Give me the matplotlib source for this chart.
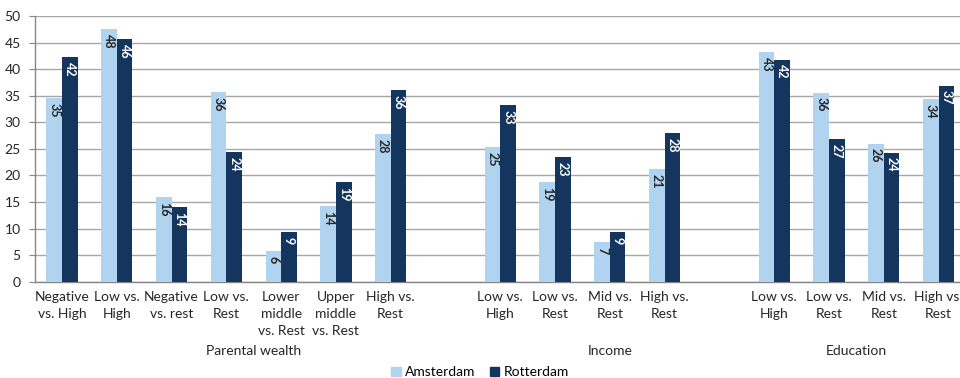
import matplotlib.pyplot as plt
import numpy as np

plt.rcParams['font.family'] = ['Lato', 'DejaVu Sans']

# Categories per group (empty string = spacer slot)
categories = ['Negative\nvs. High', 'Low vs.\nHigh', 'Negative\nvs. rest', 'Low vs.\nRest',
              'Lower\nmiddle\nvs. Rest', 'Upper\nmiddle\nvs. Rest', 'High vs.\nRest', '',
              'Low vs.\nHigh', 'Low vs.\nRest', 'Mid vs.\nRest', 'High vs.\nRest', '',
              'Low vs.\nHigh', 'Low vs.\nRest', 'Mid vs.\nRest', 'High vs.\nRest']
groups = ['Parental wealth', 'Income', 'Education']
group_slots = [(0, 7), (8, 12), (13, 16)]

amsterdam = [34.6, 47.6, 15.9, 35.7, 5.8, 14.3, 27.8, None,
             25.3, 18.7, 7.4, 21.2, None,
             43.2, 35.6, 26.0, 34.3]
rotterdam = [42.3, 45.7, 14.1, 24.4, 9.3, 18.7, 36.0, None,
             33.3, 23.4, 9.3, 27.9, None,
             41.8, 26.9, 24.3, 36.9]

light = '#B0D4F0'
dark = '#14365E'

fig = plt.figure(figsize=(9.6, 3.78), dpi=100)
ax = fig.add_axes([34.6 / 960, 96.3 / 378, 931.4 / 960, 265.7 / 378])

x = np.arange(len(categories))
w = 0.285

for vals, off, col, tcol in [(amsterdam, -w / 2, light, '#262626'),
                             (rotterdam, w / 2, dark, 'white')]:
    for xi, v in zip(x, vals):
        if v is None:
            continue
        ax.bar(xi + off, v, w, color=col, edgecolor='none', zorder=3)
        ax.annotate(f"{v:.0f}", (xi + off, v), xytext=(0, -3.5), textcoords='offset points',
                    rotation=270, ha='center', va='top', fontsize=9,
                    fontweight='bold', color=tcol, zorder=4)

ax.set_xlim(-0.5, len(categories) - 0.5)
ax.set_ylim(0, 50)
ax.set_yticks(range(0, 51, 5))
ax.tick_params(axis='y', labelsize=10, length=4, color='#868686', pad=6, labelcolor='#262626')
ax.set_xticks(x)
ax.set_xticklabels(categories, fontsize=10, color='#262626', linespacing=1.5)
ax.tick_params(axis='x', length=0, pad=7)
ax.grid(axis='y', color='#A6A6A6', linewidth=1, zorder=0)
for s in ['top', 'right']:
    ax.spines[s].set_visible(False)
for s in ['left', 'bottom']:
    ax.spines[s].set_color('#868686')
    ax.spines[s].set_linewidth(1)

# group labels under the category labels
for name, (a, b) in zip(groups, group_slots):
    ax.text((a + b) / 2, -0.262, name, transform=ax.get_xaxis_transform(),
            ha='center', va='center', fontsize=10, color='#262626')

# legend
handles = [plt.Rectangle((0, 0), 1, 1, color=light), plt.Rectangle((0, 0), 1, 1, color=dark)]
fig.legend(handles, ['Amsterdam', 'Rotterdam'], loc='center', bbox_to_anchor=(0.5, 0.015),
           ncol=2, frameon=False, fontsize=10, handlelength=0.7, handleheight=0.7,
           handletextpad=0.3, columnspacing=1.0, borderaxespad=0)

fig.savefig('out.png', dpi=100)
